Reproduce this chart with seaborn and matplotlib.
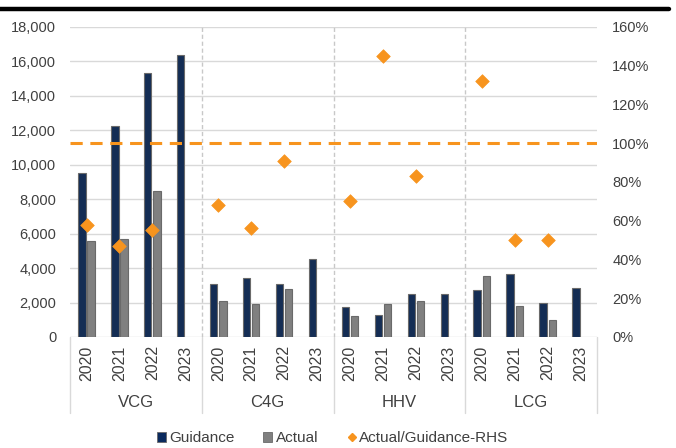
import numpy as np
import pandas as pd
import matplotlib
matplotlib.use("Agg")
import matplotlib.pyplot as plt
from matplotlib.lines import Line2D
from matplotlib.patches import Patch
import matplotlib.transforms as mtransforms
import seaborn as sns

# ---- data -------------------------------------------------------------
companies = ["VCG", "C4G", "HHV", "LCG"]
years = ["2020", "2021", "2022", "2023"]

guidance = [9500, 12250, 15300, 16350,
            3050, 3400, 3050, 4500,
            1750, 1300, 2500, 2500,
            2700, 3650, 2000, 2850]
actual = [5600, 5700, 8450, np.nan,
          2100, 1900, 2800, np.nan,
          1200, 1900, 2100, np.nan,
          3550, 1800, 1000, np.nan]
ratio = [0.58, 0.47, 0.55, np.nan,
         0.68, 0.56, 0.91, np.nan,
         0.70, 1.45, 0.83, np.nan,
         1.32, 0.50, 0.50, np.nan]

series_names = ["Guidance", "Actual"]
ratio_name = "Actual/Guidance-RHS"

# ---- build tables -------------------------------------------------------
cats = [f"{c} {y}" for c in companies for y in years]
bars = pd.DataFrame({
    "cat": cats * 2,
    "series": [series_names[0]] * len(cats) + [series_names[1]] * len(cats),
    "value": list(guidance) + list(actual),
})
pts = pd.DataFrame({"pos": np.arange(len(cats)), "ratio": ratio})

# ---- style --------------------------------------------------------------
sns.set_theme(style="white")
plt.rcParams["font.family"] = ["Liberation Sans", "DejaVu Sans"]

NAVY = "#0A2A5E"
GREY = "#808080"
ORANGE = "#F7941E"
TEXT = "#404040"
GRID = "#D9D9D9"

fig = plt.figure(figsize=(6.76, 4.48), dpi=100)
ax = fig.add_axes([0.1036, 0.2478, 0.7796, 0.6920])

sns.barplot(data=bars, x="cat", y="value", hue="series", order=cats,
            hue_order=series_names, palette=[NAVY, GREY],
            width=0.56, gap=0.2, edgecolor="#6A6A6A", linewidth=0.8,
            legend=False, ax=ax, zorder=3)

ax.set_ylim(0, 18000)
ax.set_xlim(-0.5, len(cats) - 0.5)
ax.set_yticks(np.arange(0, 18001, 2000))
ax.set_yticklabels([f"{v:,}" for v in range(0, 18001, 2000)])
ax.set_xticks(np.arange(len(cats)))
ax.set_xticklabels(years * len(companies), rotation=90)
ax.set_xlabel("")
ax.set_ylabel("")
ax.tick_params(axis="y", length=0, pad=10, labelsize=10.5, labelcolor=TEXT)
ax.tick_params(axis="x", length=0, pad=6, labelsize=11.5, labelcolor=TEXT)
ax.yaxis.grid(True, color=GRID, linewidth=1)
ax.set_axisbelow(True)
for s in ax.spines.values():
    s.set_visible(False)

# group separators inside the plot
for b in np.arange(len(years), len(cats), len(years)) - 0.5:
    ax.axvline(b, color="#C8C8C8", linewidth=1, linestyle=(0, (3, 2)), zorder=1)

# category-axis boxes below the plot
trans = mtransforms.blended_transform_factory(ax.transData, ax.transAxes)
for b in np.arange(0, len(cats) + 1, len(years)) - 0.5:
    ax.plot([b, b], [0, -0.245], transform=trans, color=GRID,
            linewidth=1, clip_on=False)
for i, c in enumerate(companies):
    ax.text(i * len(years) + (len(years) - 1) / 2, -0.21, c, transform=trans,
            ha="center", va="center", fontsize=12, color=TEXT)

# ratio on the right-hand axis
ax2 = ax.twinx()
ax2.set_position(ax.get_position())
ax2.axhline(1.0, color=ORANGE, linewidth=2.2, linestyle=(0, (4, 2.5)), zorder=2)
sns.scatterplot(data=pts, x="pos", y="ratio", marker="D", s=48, color=ORANGE,
                edgecolor=ORANGE, linewidth=0.5, ax=ax2, zorder=4, legend=False)
ax2.set_xlim(ax.get_xlim())
ax2.set_ylim(0, 1.6)
ax2.set_yticks(np.arange(0, 1.61, 0.2))
ax2.set_yticklabels([f"{int(round(v * 100))}%" for v in np.arange(0, 1.61, 0.2)])
ax2.set_xlabel("")
ax2.set_ylabel("")
ax2.tick_params(axis="y", length=0, pad=11, labelsize=10.5, labelcolor=TEXT)
ax2.grid(False)
for s in ax2.spines.values():
    s.set_visible(False)

# rule across the top
fig.add_artist(Line2D([0.0, 0.99], [0.981, 0.981], color="black",
                      linewidth=3.2, transform=fig.transFigure))

# legend
handles = [
    Patch(facecolor=NAVY, edgecolor="#6A6A6A", linewidth=0.6),
    Patch(facecolor=GREY, edgecolor="#6A6A6A", linewidth=0.6),
    Line2D([], [], marker="D", linestyle="none", color=ORANGE, markersize=4),
]
fig.legend(handles, series_names + [ratio_name], loc="center",
           bbox_to_anchor=(0.492, 0.022), ncol=3, frameon=False,
           fontsize=11, labelcolor=TEXT, handlelength=0.6, handleheight=0.6,
           handletextpad=0.2, columnspacing=1.9, borderpad=0.1)

fig.savefig("out.png", dpi=100)
